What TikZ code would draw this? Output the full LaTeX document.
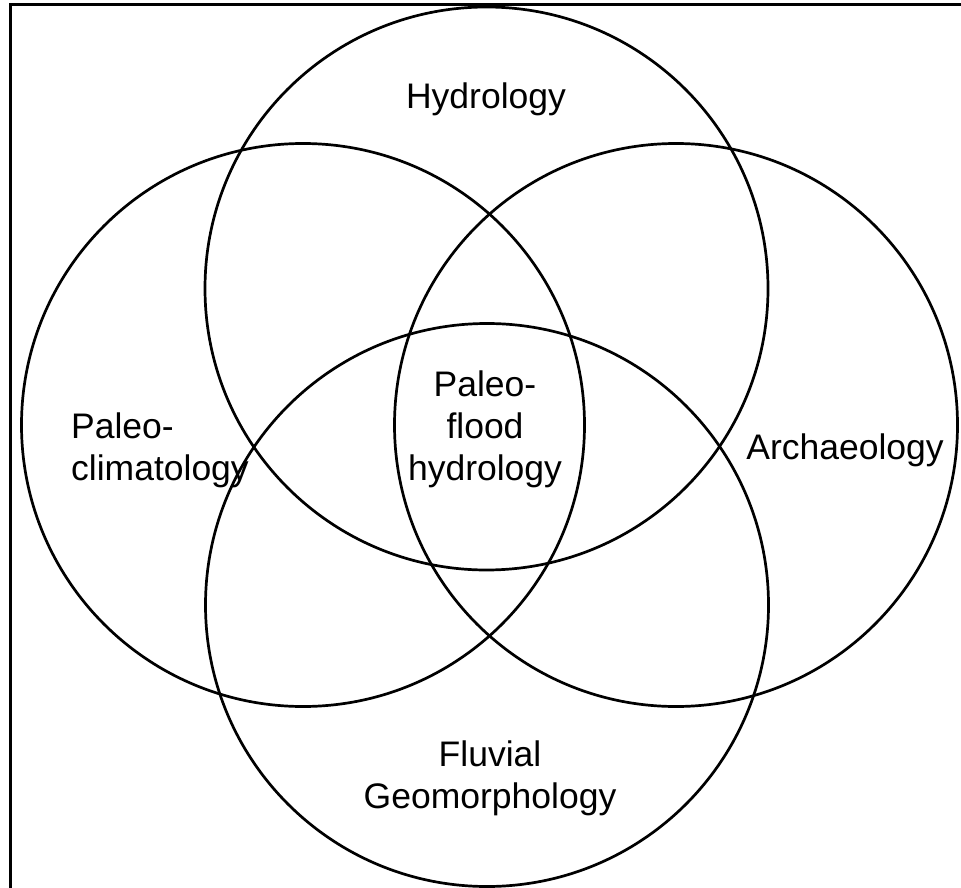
\documentclass[tikz,border=0pt]{standalone}
\usepackage{fontspec}
\setmainfont{Liberation Sans}
\begin{document}
\begin{tikzpicture}[x=1pt,y=-1pt,
  ring/.style={draw=black,line width=2.7pt},
  lbl/.style={font=\fontsize{35.5}{42}\selectfont,inner sep=0pt,align=center}]
\useasboundingbox (0,0) rectangle (961,888);
% frame edges
\draw[line width=3pt] (10,888) -- (10,5) -- (961,5);
% the four disciplines
\draw[ring] (486.5,288.5) circle (281.5);
\draw[ring] (303,425) circle (281.5);
\draw[ring] (676,425) circle (281.5);
\draw[ring] (487,605) circle (281.5);
% labels
\node[lbl] (hyd) at (486,99) {Hydrology};
\node[lbl,align=left,anchor=west] (pal) at (71,450) {Paleo-\\climatology};
\node[lbl] (pfh) at (485,429) {Paleo-\\flood\\hydrology};
\node[lbl] (arc) at (845,450) {Archaeology};
\node[lbl] (flu) at (490,778) {Fluvial\\Geomorphology};
\end{tikzpicture}
\end{document}
